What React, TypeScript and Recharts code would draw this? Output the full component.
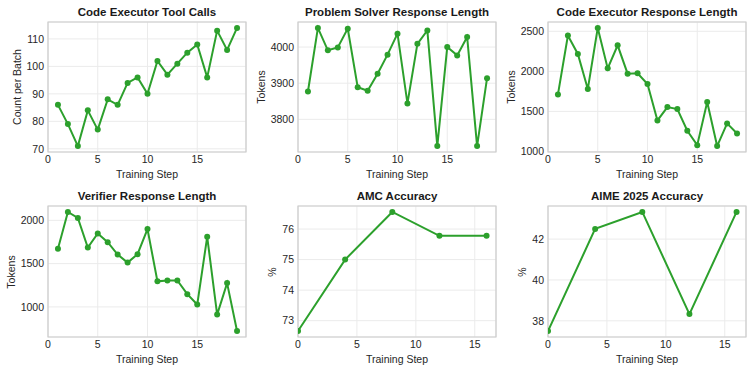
import React from 'react';
import { LineChart, Line, XAxis, YAxis, CartesianGrid, ReferenceArea } from 'recharts';

const trainingSteps = [1, 2, 3, 4, 5, 6, 7, 8, 9, 10, 11, 12, 13, 14, 15, 16, 17, 18, 19];
const toolCalls = [86, 79, 71, 84, 77, 88, 86, 94, 96, 90, 102, 97, 101, 105, 108, 96, 113, 106, 114];
const solverLength = [3877, 4053, 3991, 3999, 4051, 3889, 3879, 3926, 3979, 4037, 3844, 4009, 4046, 3726, 4000, 3977, 4028, 3726, 3914];
const executorLength = [1712, 2446, 2217, 1779, 2542, 2037, 2325, 1971, 1975, 1842, 1387, 1554, 1529, 1258, 1079, 1617, 1067, 1350, 1225];
const verifierLength = [1671, 2097, 2027, 1686, 1849, 1748, 1605, 1512, 1609, 1899, 1295, 1306, 1306, 1147, 1027, 1810, 911, 1275, 721];
const evalSteps = [0, 4, 8, 12, 16];
const amcAccuracy = [72.66, 75.0, 76.56, 75.78, 75.78];
const aimeAccuracy = [37.5, 42.5, 43.33, 38.33, 43.33];

const stepTicks = [0, 5, 10, 15];
const toolCallTicks = [70, 80, 90, 100, 110];
const solverTicks = [3800, 3900, 4000];
const executorTicks = [1000, 1500, 2000, 2500];
const verifierTicks = [1000, 1500, 2000];
const amcTicks = [73, 74, 75, 76];
const aimeTicks = [38, 40, 42];

const FONT = '"Liberation Sans", Arial, Helvetica, sans-serif';
const GREEN = '#2ca02c';
const TEXT = '#262626';

type PanelProps = {
  left: number;
  top: number;
  height: number;
  marginTop: number;
  title: string;
  yLabel: string;
  yLabelX: number;
  xs: number[];
  ys: number[];
  yTicks: number[];
};

function Panel({ left, top, height, marginTop, title, yLabel, yLabelX, xs, ys, yTicks }: PanelProps) {
  const data = xs.map((x, i) => ({ x, y: ys[i] }));
  const xmin = Math.min(...xs);
  const xmax = Math.max(...xs);
  const ymin = Math.min(...ys);
  const ymax = Math.max(...ys);
  const ypad = (ymax - ymin) * 0.05;
  const xDomain: [number, number] = [0, xmax + (xmax - xmin) * 0.05];
  const yDomain: [number, number] = [ymin - ypad, ymax + ypad];
  const width = 250;
  const yAxisW = 48;
  const rightM = 4;
  const xAxisH = 34;
  const plotTop = top + marginTop;
  const plotH = height - marginTop - xAxisH;
  const plotLeft = left + yAxisW;
  const plotW = width - yAxisW - rightM;
  const tickStyle = { fontSize: 10.5, fill: TEXT, fontFamily: FONT };
  return (
    <>
      <div style={{ position: 'absolute', left, top, width, height }}>
        <LineChart width={width} height={height} data={data} margin={{ top: marginTop, right: rightM, bottom: 0, left: 0 }}>
          <CartesianGrid stroke="#ebebeb" strokeWidth={1} />
          <XAxis
            dataKey="x"
            type="number"
            domain={xDomain}
            ticks={stepTicks}
            allowDataOverflow
            interval={0}
            tickLine={false}
            axisLine={false}
            tickSize={0}
            tickMargin={4}
            height={xAxisH}
            tick={tickStyle}
          />
          <YAxis
            type="number"
            domain={yDomain}
            ticks={yTicks}
            allowDataOverflow
            interval={0}
            tickLine={false}
            axisLine={false}
            tickSize={0}
            tickMargin={4}
            width={yAxisW}
            tick={tickStyle}
          />
          <ReferenceArea
            x1={xDomain[0]}
            x2={xDomain[1]}
            y1={yDomain[0]}
            y2={yDomain[1]}
            fill="none"
            fillOpacity={0}
            stroke="#cccccc"
            strokeWidth={1.2}
            ifOverflow="visible"
          />
          <Line
            dataKey="y"
            type="linear"
            stroke={GREEN}
            strokeWidth={2}
            dot={{ r: 3, fill: GREEN, stroke: GREEN, strokeWidth: 0 }}
            activeDot={false}
            isAnimationActive={false}
          />
        </LineChart>
      </div>
      <div
        style={{
          position: 'absolute',
          left: plotLeft,
          width: plotW,
          top: plotTop - 10 - 7,
          lineHeight: '14px',
          fontSize: 11.5,
          fontWeight: 'bold',
          textAlign: 'center',
          color: '#1a1a1a',
          fontFamily: FONT,
          whiteSpace: 'nowrap',
        }}
      >
        {title}
      </div>
      <div
        style={{
          position: 'absolute',
          left: plotLeft,
          width: plotW,
          top: plotTop + plotH + 22 - 6,
          lineHeight: '12px',
          fontSize: 10.5,
          textAlign: 'center',
          color: TEXT,
          fontFamily: FONT,
          whiteSpace: 'nowrap',
        }}
      >
        Training Step
      </div>
      <div
        style={{
          position: 'absolute',
          left: left + yLabelX,
          top: plotTop + plotH / 2,
          lineHeight: '12px',
          fontSize: 10.5,
          color: TEXT,
          fontFamily: FONT,
          whiteSpace: 'nowrap',
          transform: 'translate(-50%, -50%) rotate(-90deg)',
        }}
      >
        {yLabel}
      </div>
    </>
  );
}

export default function App() {
  return (
    <div style={{ position: 'absolute', left: 0, top: 0, width: 753, height: 372, background: '#ffffff', overflow: 'hidden' }}>
      <Panel left={0} top={0} height={186} marginTop={22} title="Code Executor Tool Calls" yLabel="Count per Batch" yLabelX={17} xs={trainingSteps} ys={toolCalls} yTicks={toolCallTicks} />
      <Panel left={250} top={0} height={186} marginTop={22} title="Problem Solver Response Length" yLabel="Tokens" yLabelX={11} xs={trainingSteps} ys={solverLength} yTicks={solverTicks} />
      <Panel left={500} top={0} height={186} marginTop={22} title="Code Executor Response Length" yLabel="Tokens" yLabelX={11} xs={trainingSteps} ys={executorLength} yTicks={executorTicks} />
      <Panel left={0} top={186} height={185} marginTop={20} title="Verifier Response Length" yLabel="Tokens" yLabelX={11} xs={trainingSteps} ys={verifierLength} yTicks={verifierTicks} />
      <Panel left={250} top={186} height={185} marginTop={20} title="AMC Accuracy" yLabel="%" yLabelX={22} xs={evalSteps} ys={amcAccuracy} yTicks={amcTicks} />
      <Panel left={500} top={186} height={185} marginTop={20} title="AIME 2025 Accuracy" yLabel="%" yLabelX={22} xs={evalSteps} ys={aimeAccuracy} yTicks={aimeTicks} />
    </div>
  );
}
